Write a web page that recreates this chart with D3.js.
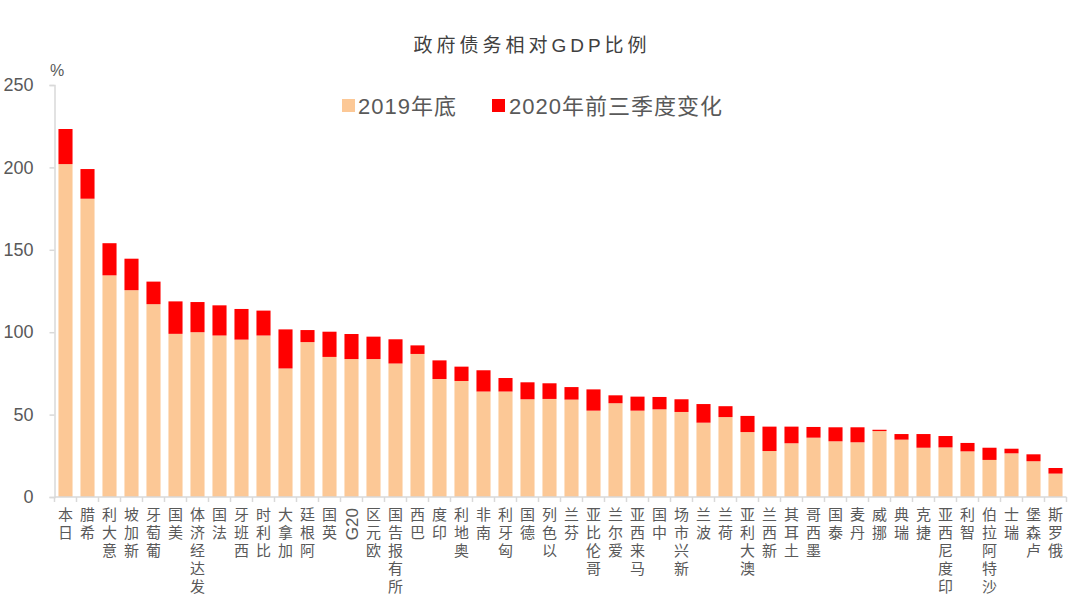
<!DOCTYPE html>
<html>
<head>
<meta charset="utf-8">
<script src="https://cdn.jsdelivr.net/npm/d3@7"></script>
<style>
  html, body { margin: 0; padding: 0; background: #fff; }
  svg { display: block; font-family: "Liberation Sans", Arial, "Noto Sans CJK SC", sans-serif; }
</style>
</head>
<body>
<svg id="chart" width="1080" height="613"></svg>
<script>
const categories = ["日本","希腊","意大利","新加坡","葡萄牙","美国","发达经济体","法国","西班牙","比利时","加拿大","阿根廷","英国","G20","欧元区","所有报告国","巴西","印度","奥地利","南非","匈牙利","德国","以色列","芬兰","哥伦比亚","爱尔兰","马来西亚","中国","新兴市场","波兰","荷兰","澳大利亚","新西兰","土耳其","墨西哥","泰国","丹麦","挪威","瑞典","捷克","印度尼西亚","智利","沙特阿拉伯","瑞士","卢森堡","俄罗斯"];
const base2019 = [202,181,134.5,125.5,117,99,100,98,95.5,98,78,94,85,83.7,83.7,81,86.8,71.6,70.4,64,64,59.3,59.5,59.1,52.4,56.9,52.4,53.2,51.6,45.1,48.5,39.4,27.9,32.6,36,33.8,33.2,40,34.8,29.9,30.1,27.7,22.5,26.5,21.7,14.2];
const change2020 = [21.3,18,19.5,19.1,13.7,19.7,18.3,18.3,18.6,15.1,23.7,7.3,15.3,15.2,13.6,14.7,5.2,11.3,8.7,12.9,8.2,10.3,9.5,7.6,12.9,4.8,8.5,7.5,7.7,11.3,6.6,9.8,14.8,10.1,6.5,8.5,9.1,0.8,3.4,8.3,6.9,5.1,7.4,2.8,4.2,3.4];
const yTicks = [0,50,100,150,200,250];
const seriesNames = ["2019年底","2020年前三季度变化"];
const colors = ["#FCC896","#FF0000"];

const svg = d3.select("#chart");
const x = d3.scaleBand().domain(categories).range([54.5, 1066.5]).paddingInner(0.36).paddingOuter(0.18);
const y = d3.scaleLinear().domain([0, 250]).range([497, 85]);
const axisColor = "#D9D9D9";
const textColor = "#595959";

const rows = categories.map((c, i) => ({cat: c, base: base2019[i], chg: change2020[i]}));

// bars
svg.append("g").selectAll("rect").data(rows).join("rect")
  .attr("x", d => x(d.cat)).attr("width", x.bandwidth())
  .attr("y", d => y(d.base)).attr("height", d => y(0) - y(d.base))
  .attr("fill", colors[0]);
svg.append("g").selectAll("rect").data(rows).join("rect")
  .attr("x", d => x(d.cat)).attr("width", x.bandwidth())
  .attr("y", d => y(d.base + d.chg)).attr("height", d => y(d.base) - y(d.base + d.chg))
  .attr("fill", colors[1]);

// y axis
const yAxis = svg.append("g").attr("transform", "translate(54.5,0)")
  .call(d3.axisLeft(y).tickValues(yTicks).tickSize(5).tickPadding(16));
yAxis.select(".domain").attr("stroke", axisColor).attr("stroke-width", 1.5);
yAxis.selectAll(".tick line").attr("stroke", axisColor).attr("stroke-width", 1.5);
yAxis.selectAll(".tick text").attr("fill", textColor).attr("font-size", 18)
  .attr("font-family", "Liberation Sans, Arial, sans-serif");

svg.append("text").attr("x", 50).attr("y", 76).attr("fill", textColor)
  .attr("font-size", 16).text("%");

// x axis
const xg = svg.append("g");
xg.append("line").attr("x1", 54.5).attr("x2", 1066.5).attr("y1", y(0)).attr("y2", y(0))
  .attr("stroke", axisColor).attr("stroke-width", 1.5);
const half = (x.step() - x.bandwidth()) / 2;
const bounds = categories.map(c => x(c) - half).concat([x(categories[categories.length - 1]) + x.bandwidth() + half]);
xg.selectAll("line.tk").data(bounds).join("line").attr("class", "tk")
  .attr("x1", d => d).attr("x2", d => d).attr("y1", y(0)).attr("y2", y(0) + 5)
  .attr("stroke", axisColor).attr("stroke-width", 1.5);

// x labels: vertical, reading bottom-to-top, CJK upright
const lab = svg.append("g");
categories.forEach(c => {
  const cx = x(c) + x.bandwidth() / 2;
  if (/^[A-Za-z0-9]+$/.test(c)) {
    lab.append("text").attr("transform", `translate(${cx + 6},508) rotate(-90)`)
      .attr("text-anchor", "end").attr("font-size", 17).attr("fill", textColor)
      .attr("font-family", "Liberation Sans, Arial, sans-serif").text(c);
  } else {
    lab.append("text").attr("x", cx).attr("y", 507)
      .attr("writing-mode", "vertical-rl")
      .style("text-orientation", "upright")
      .attr("letter-spacing", 3)
      .attr("font-size", 15).attr("fill", textColor)
      .attr("font-family", "Noto Sans CJK SC, sans-serif")
      .text(Array.from(c).reverse().join(""));
  }
});

// title
svg.append("text").attr("x", 532).attr("y", 52).attr("text-anchor", "middle")
  .attr("font-size", 19).attr("letter-spacing", 4).attr("fill", "#404040")
  .attr("font-family", "Liberation Sans, Arial, Noto Sans CJK SC, sans-serif")
  .text("政府债务相对GDP比例");

// legend
const leg = [{name: seriesNames[0], color: colors[0], sx: 342, tx: 358},
             {name: seriesNames[1], color: colors[1], sx: 492, tx: 509}];
const lg = svg.append("g");
lg.selectAll("rect").data(leg).join("rect")
  .attr("x", d => d.sx).attr("y", 99).attr("width", 13).attr("height", 13).attr("fill", d => d.color);
lg.selectAll("text").data(leg).join("text")
  .attr("x", d => d.tx).attr("y", 113.5).attr("font-size", 22).attr("letter-spacing", 1)
  .attr("fill", textColor).text(d => d.name);
</script>
</body>
</html>
